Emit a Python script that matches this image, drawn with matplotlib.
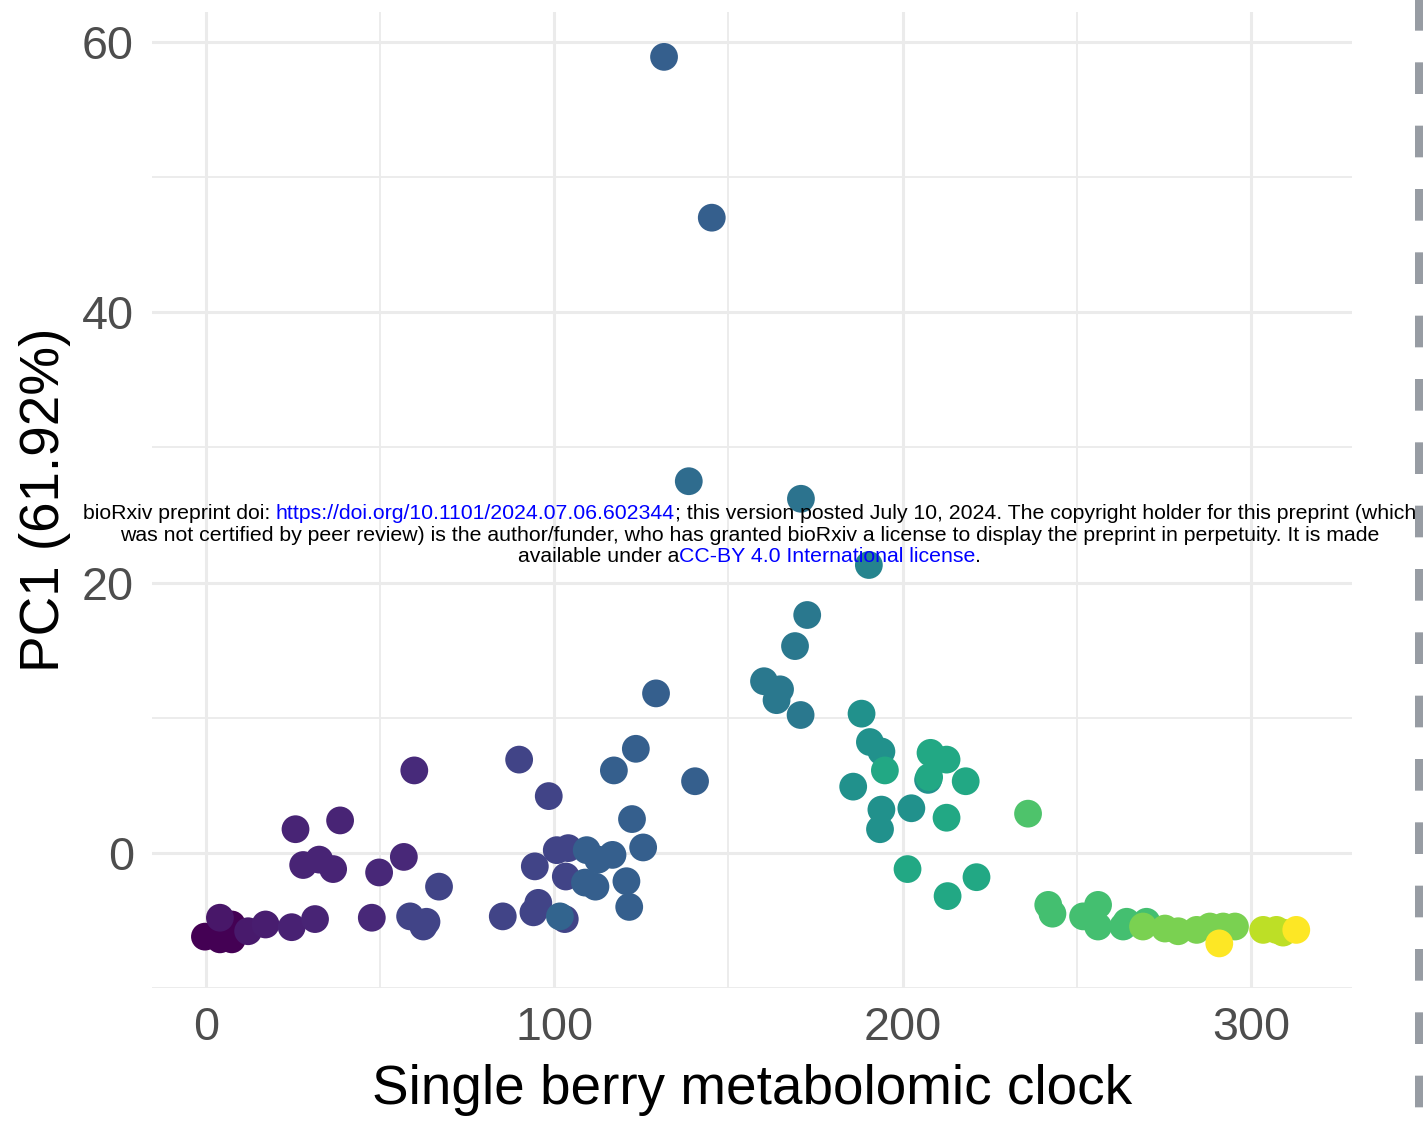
import matplotlib
matplotlib.use('Agg')
import matplotlib.pyplot as plt
from matplotlib.lines import Line2D
from matplotlib.transforms import IdentityTransform
import numpy as np

# single berry clock vs PC1, colour = sampling stage (0..1 on viridis)
clock = [-0.3, 4.0, 4.0, 7.4, 7.4, 12.1, 17.1, 24.6, 31.3, 25.7, 27.9, 32.5, 36.5, 38.5,
         47.6, 49.7, 56.8, 58.6, 63.3, 62.4, 59.8, 66.9, 85.2, 89.9, 94.0, 95.4, 94.4,
         98.4, 100.7, 104.0, 103.3, 103.0, 101.6, 109.3, 112.6, 116.7, 108.8, 111.8,
         120.7, 121.5, 122.3, 125.5, 117.1, 123.4, 129.2, 131.5, 145.2, 138.6, 140.4,
         160.2, 164.8, 163.8, 170.7, 169.1, 172.6, 170.8, 190.3, 188.2, 190.6, 193.9,
         194.9, 185.8, 193.9, 193.5, 202.5, 207.3, 207.6, 208.0, 212.6, 218.1, 212.6,
         201.4, 221.2, 212.9, 236.0, 241.8, 243.0, 251.8, 256.1, 256.1, 264.3, 263.3,
         270.0, 269.0, 275.3, 279.1, 284.4, 288.2, 292.0, 295.4, 290.9, 303.5, 307.3,
         309.2, 313.0]
pc1 = [-6.2, -4.8, -6.4, -5.3, -6.4, -5.8, -5.3, -5.5, -4.9, 1.75, -0.9, -0.5, -1.2, 2.4,
       -4.8, -1.45, -0.3, -4.7, -5.1, -5.45, 6.1, -2.5, -4.7, 6.9, -4.4, -3.7, -1.0,
       4.2, 0.2, 0.35, -1.75, -4.9, -4.7, 0.2, -0.5, -0.15, -2.2, -2.5,
       -2.1, -4.0, 2.5, 0.4, 6.1, 7.7, 11.8, 58.9, 47.0, 27.5, 5.3,
       12.7, 12.1, 11.3, 10.2, 15.3, 17.6, 26.2, 21.3, 10.3, 8.2, 7.5,
       6.1, 4.9, 3.2, 1.75, 3.3, 5.4, 5.6, 7.4, 6.9, 5.3, 2.6,
       -1.2, -1.8, -3.2, 2.9, -3.85, -4.5, -4.7, -3.85, -5.45, -5.1, -5.45,
       -5.1, -5.45, -5.6, -5.8, -5.7, -5.45, -5.45, -5.45, -6.7, -5.7, -5.7,
       -5.9, -5.7]
stage = [0.0, 0.06, 0.0, 0.0, 0.0, 0.07, 0.08, 0.09, 0.1, 0.1, 0.1, 0.1, 0.1, 0.1,
         0.11, 0.11, 0.11, 0.2, 0.2, 0.2, 0.12, 0.2, 0.2, 0.2, 0.2, 0.2, 0.2,
         0.2, 0.2, 0.2, 0.2, 0.2, 0.32, 0.3, 0.3, 0.3, 0.3, 0.3,
         0.3, 0.3, 0.3, 0.3, 0.3, 0.3, 0.3, 0.3, 0.3, 0.35, 0.3,
         0.4, 0.4, 0.4, 0.4, 0.4, 0.4, 0.38, 0.45, 0.5, 0.5, 0.5,
         0.6, 0.5, 0.5, 0.5, 0.5, 0.5, 0.6, 0.6, 0.6, 0.6, 0.6,
         0.6, 0.6, 0.6, 0.72, 0.7, 0.7, 0.7, 0.7, 0.7, 0.7, 0.7,
         0.7, 0.8, 0.8, 0.8, 0.8, 0.8, 0.8, 0.8, 1.0, 0.9, 0.9,
         0.9, 1.0]

plt.rcParams['font.family'] = ['Liberation Sans', 'DejaVu Sans']
plt.rcParams['lines.scale_dashes'] = False

fig = plt.figure(figsize=(14.26, 11.25), dpi=100)
ax = fig.add_axes([152/1426, 1-988/1125, 1200/1426, 976/1125])

order = np.argsort(stage, kind='stable')
ax.scatter(np.array(clock)[order], np.array(pc1)[order], c=np.array(stage)[order],
           cmap='viridis', vmin=0, vmax=1, s=400, linewidths=0, zorder=3)

ax.set_xlim(-15.5, 329)
ax.set_ylim(-10, 62.22)
ax.set_xticks([0, 100, 200, 300])
ax.set_xticks([50, 150, 250], minor=True)
ax.set_yticks([0, 20, 40, 60])
ax.set_yticks([-10, 10, 30, 50], minor=True)
ax.grid(which='major', color='#ebebeb', lw=2.2)
ax.grid(which='minor', color='#ebebeb', lw=1.3)
ax.set_axisbelow(True)
for s in ax.spines.values():
    s.set_visible(False)
ax.tick_params(which='both', length=0)
ax.tick_params(axis='both', labelsize=33.7, labelcolor='#4d4d4d')
ax.tick_params(axis='y', pad=13)
ax.tick_params(axis='x', pad=13)
ax.set_xlabel('Single berry metabolomic clock', fontsize=39.5, labelpad=10)
ax.set_ylabel('PC1 (61.92%)', fontsize=39.5, labelpad=8)

# dashed border on the right
fig.add_artist(Line2D([1419, 1419], [1133, 0], transform=IdentityTransform(),
                      color='#979ca3', lw=5.76, dashes=(22.8, 22.8)))

# bioRxiv watermark
blue = '#0000ff'
lines = [
    [("bioRxiv preprint doi: ", 'black'), ("https://doi.org/10.1101/2024.07.06.602344", blue),
     ("; this version posted July 10, 2024. The copyright holder for this preprint (which", 'black')],
    [("was not certified by peer review) is the author/funder, who has granted bioRxiv a license to display the preprint in perpetuity. It is made", 'black')],
    [("available under a", 'black'), ("CC-BY 4.0 International license", blue), (".", 'black')],
]
baselines = [606, 584, 563]
r = fig.canvas.get_renderer()


def width(s, fs):
    t = fig.text(0, 0, s, fontsize=fs, transform=IdentityTransform())
    w = t.get_window_extent(r).width
    t.remove()
    return w


full1 = ''.join(p[0] for p in lines[0])
fs = 10 * 1341 / width(full1, 10)
bar = width('|', fs)
for parts, yb in zip(lines, baselines):
    full = ''.join(p[0] for p in parts)
    x0 = 749.5 - width(full, fs) / 2
    prefix = ''
    for s, col in parts:
        off = width(prefix + '|', fs) - bar if prefix else 0
        fig.text(x0 + off, yb, s, fontsize=fs, color=col, ha='left', va='baseline',
                 transform=IdentityTransform(), zorder=10)
        prefix += s

fig.savefig('out.png', dpi=100)
